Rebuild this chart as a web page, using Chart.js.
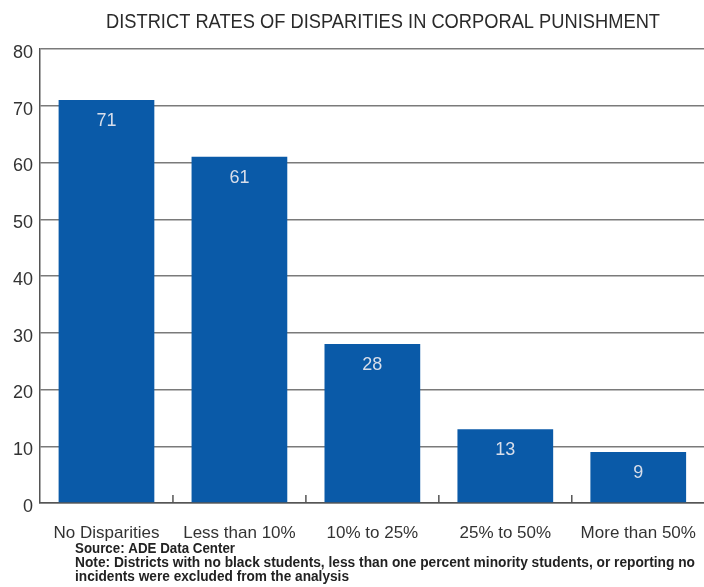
<!DOCTYPE html>
<html>
<head>
<meta charset="utf-8">
<script src="https://cdn.jsdelivr.net/npm/chart.js@4"></script>
<style>
  html, body { margin: 0; padding: 0; background: #fff; overflow: hidden; }
  #wrap { width: 708px; height: 587px; }
</style>
</head>
<body>
<div id="wrap"><canvas id="c" width="708" height="587"></canvas></div>
<script>
const titleText = "DISTRICT RATES OF DISPARITIES IN CORPORAL PUNISHMENT";
const categories = ["No Disparities", "Less than 10%", "10% to 25%", "25% to 50%", "More than 50%"];
const values = [71, 61, 28, 13, 9];
const yMin = 0, yMax = 80, yStep = 10;
const footnotes = [
  "Source: ADE Data Center",
  "Note: Districts with no black students, less than one percent minority students, or reporting no",
  "incidents were excluded from the analysis"
];

const decor = {
  id: 'decor',
  afterDatasetsDraw(chart) {
    const ctx = chart.ctx;
    const x = chart.scales.x;
    const area = chart.chartArea;
    ctx.save();
    // small category boundary ticks pointing up from the baseline
    ctx.strokeStyle = '#555';
    ctx.lineWidth = 1.5;
    for (let i = 1; i < categories.length; i++) {
      const px = (x.getPixelForValue(i - 1) + x.getPixelForValue(i)) / 2;
      ctx.beginPath();
      ctx.moveTo(px, area.bottom);
      ctx.lineTo(px, area.bottom - 8);
      ctx.stroke();
    }
    // value labels inside bars
    const meta = chart.getDatasetMeta(0);
    ctx.fillStyle = '#d8deea';
    ctx.font = '18px "Liberation Sans", Arial, sans-serif';
    ctx.textAlign = 'center';
    ctx.textBaseline = 'middle';
    meta.data.forEach((bar, i) => {
      ctx.fillText(String(values[i]), bar.x, bar.y + 21);
    });
    ctx.restore();
  },
  afterDraw(chart) {
    const ctx = chart.ctx;
    ctx.save();
    ctx.fillStyle = '#2a2a2a';
    ctx.textBaseline = 'middle';
    ctx.textAlign = 'center';
    ctx.font = '20px "Liberation Sans", Arial, sans-serif';
    ctx.fillText(titleText, 383, 22, 554);
    ctx.textAlign = 'left';
    ctx.fillStyle = '#222';
    ctx.font = 'bold 14px "Liberation Sans", Arial, sans-serif';
    ctx.fillText(footnotes[0], 75, 549, 160);
    ctx.fillText(footnotes[1], 75, 563, 620);
    ctx.fillText(footnotes[2], 75, 577, 274);
    ctx.restore();
  }
};

new Chart(document.getElementById('c'), {
  type: 'bar',
  data: {
    labels: categories,
    datasets: [{
      data: values,
      backgroundColor: '#0a5aa8',
      borderWidth: 0,
      barPercentage: 0.72,
      categoryPercentage: 1.0
    }]
  },
  options: {
    responsive: false,
    animation: false,
    layout: { padding: { top: 49, left: 0, right: 1, bottom: 0 } },
    plugins: { legend: { display: false }, title: { display: false }, tooltip: { enabled: false } },
    scales: {
      x: {
        grid: { display: false },
        border: { display: true, color: '#555', width: 1.5 },
        ticks: {
          color: '#333',
          font: { family: '"Liberation Sans", Arial, sans-serif', size: 17 },
          padding: 12,
          maxRotation: 0,
          autoSkip: false
        },
        afterFit(s) { s.height = 84; }
      },
      y: {
        min: yMin, max: yMax,
        grid: { color: '#7a7a7a', lineWidth: 1.5, drawTicks: false },
        border: { display: true, color: '#555', width: 1.5 },
        ticks: {
          stepSize: yStep,
          color: '#333',
          font: { family: '"Liberation Sans", Arial, sans-serif', size: 18 },
          padding: 7,
          labelOffset: 4
        },
        afterFit(s) { s.width = 40; }
      }
    }
  },
  plugins: [decor]
});
</script>
</body>
</html>
